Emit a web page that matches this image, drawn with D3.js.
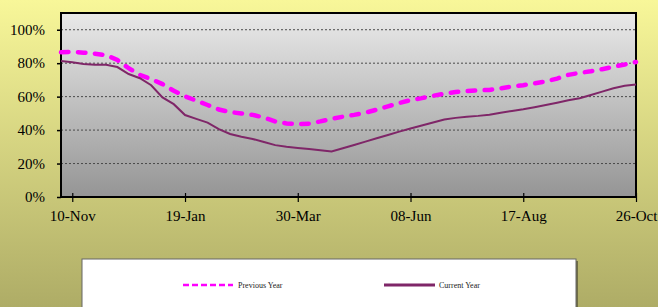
<!DOCTYPE html>
<html><head><meta charset="utf-8">
<script src="https://cdn.jsdelivr.net/npm/d3@7/dist/d3.min.js"></script>
<style>html,body{margin:0;padding:0;overflow:hidden;background:#fff}</style>
</head><body><svg id="c" width="658" height="307"></svg>
<script>
const weeks = ["2008-11-03","2008-11-10","2008-11-17","2008-11-24","2008-12-01","2008-12-08","2008-12-15","2008-12-22","2008-12-29",
"2009-01-05","2009-01-12","2009-01-19","2009-01-26","2009-02-02","2009-02-09","2009-02-16","2009-02-23",
"2009-03-02","2009-03-09","2009-03-16","2009-03-23","2009-03-30","2009-04-06","2009-04-13","2009-04-20","2009-04-27",
"2009-05-04","2009-05-11","2009-05-18","2009-05-25","2009-06-01","2009-06-08","2009-06-15","2009-06-22","2009-06-29",
"2009-07-06","2009-07-13","2009-07-20","2009-07-27","2009-08-03","2009-08-10","2009-08-17","2009-08-24","2009-08-31",
"2009-09-07","2009-09-14","2009-09-21","2009-09-28","2009-10-05","2009-10-12","2009-10-19","2009-10-26"];
const previousYear = [86.5,86.8,86.3,85.7,84.8,81.9,77,73,70.5,67.5,63.5,60.2,57.6,55,52.3,50.8,49.9,49.1,47.5,45.2,44,43.5,43.8,45.2,46.8,48,
49.1,50.4,52.2,54.2,56.2,57.9,59.1,60.5,61.8,62.8,63.3,63.8,64,65,66,66.8,68,69.1,70.8,73,74.2,75.2,76.4,77.9,79.2,80.7];
const currentYear = [81.3,80.5,79.5,79,79,77.7,73.5,71,66.8,59.5,55.5,49,46.7,44.5,40.6,37.7,36,34.7,32.9,31,30,29.3,28.7,28,27.2,29.1,
31.1,33.1,35.1,37.1,39.1,41,42.7,44.5,46.3,47.3,48,48.5,49.2,50.4,51.4,52.4,53.7,55,56.4,57.8,59,61,63,65,66.5,67.2];
const xTickDates = ["2008-11-10","2009-01-19","2009-03-30","2009-06-08","2009-08-17","2009-10-26"];
const xTickLabels = ["10-Nov","19-Jan","30-Mar","08-Jun","17-Aug","26-Oct"];
const yTicks = [0,20,40,60,80,100];
const seriesNames = ["Previous Year","Current Year"];

const parse = d3.timeParse("%Y-%m-%d");
const dates = weeks.map(parse);
const svg = d3.select("#c");
const W=658,H=307;
const L=61,R=636,T=13,B=197;

const defs = svg.append("defs");
const bg = defs.append("linearGradient").attr("id","bg").attr("x1",0).attr("y1",0).attr("x2",0).attr("y2",1);
bg.append("stop").attr("offset","0%").attr("stop-color","#f8f799");
bg.append("stop").attr("offset","100%").attr("stop-color","#aeac66");
const pg = defs.append("linearGradient").attr("id","pg").attr("x1",0).attr("y1",0).attr("x2",0).attr("y2",1);
pg.append("stop").attr("offset","0%").attr("stop-color","#e9e9e9");
pg.append("stop").attr("offset","100%").attr("stop-color","#959595");

svg.append("rect").attr("width",W).attr("height",H).attr("fill","url(#bg)");

const x = d3.scaleTime().domain([dates[0],dates[dates.length-1]]).range([L,R]);
const y = d3.scaleLinear().domain([0,110]).range([B,T]);

svg.append("rect").attr("x",L).attr("y",T).attr("width",R-L).attr("height",B-T).attr("fill","url(#pg)");

// gridlines
svg.append("g").selectAll("line").data(yTicks.filter(d=>d>0)).join("line")
  .attr("x1",L).attr("x2",R).attr("y1",d=>y(d)).attr("y2",d=>y(d))
  .attr("stroke","#4a4a4a").attr("stroke-width",1).attr("stroke-dasharray","2,2");

const font = "'Liberation Serif','Times New Roman',serif";

// y axis
const ya = svg.append("g").attr("transform",`translate(${L},0)`)
  .call(d3.axisLeft(y).tickValues(yTicks).tickFormat(d=>d+"%").tickSize(4).tickPadding(12));
ya.select(".domain").remove();
ya.selectAll("line").attr("stroke","#000").attr("stroke-width",1.5);
ya.selectAll("text").attr("font-family",font).attr("font-size",15).attr("fill","#000");

// x axis
const xa = svg.append("g").attr("transform",`translate(0,${B})`)
  .call(d3.axisBottom(x).tickValues(xTickDates.map(parse)).tickFormat((d,i)=>xTickLabels[i]).tickSize(5).tickPadding(8));
xa.select(".domain").remove();
xa.selectAll(".tick line").attr("y1",-4).attr("stroke","#000").attr("stroke-width",1.2);
xa.selectAll("text").attr("font-family",font).attr("font-size",15).attr("fill","#000");

// plot border
svg.append("rect").attr("x",L).attr("y",T).attr("width",R-L).attr("height",B-T)
  .attr("fill","none").attr("stroke","#000").attr("stroke-width",2);

const line = d3.line().x((d,i)=>x(dates[i])).y(d=>y(d));
svg.append("path").datum(previousYear).attr("d",line).attr("fill","none")
  .attr("stroke","#ff00ff").attr("stroke-width",4.5).attr("stroke-linecap","round")
  .attr("stroke-dasharray","7.5,9.5");
svg.append("path").datum(currentYear).attr("d",line).attr("fill","none")
  .attr("stroke","#7f2668").attr("stroke-width",2);

// legend
svg.append("rect").attr("x",84).attr("y",261).attr("width",494).attr("height",60).attr("fill","#6f6d45");
svg.append("rect").attr("x",82).attr("y",259).attr("width",494).attr("height",60)
  .attr("fill","#fff").attr("stroke","#666").attr("stroke-width",1);
const ly = 285;
const leg = [{x1:183,x2:233,tx:238,name:seriesNames[0],c:"#ff00ff",w:2.5,dash:"6,3"},
             {x1:384,x2:435,tx:439,name:seriesNames[1],c:"#7f2668",w:3,dash:null}];
leg.forEach(l=>{
  const ln = svg.append("line").attr("x1",l.x1).attr("x2",l.x2).attr("y1",ly).attr("y2",ly)
    .attr("stroke",l.c).attr("stroke-width",l.w);
  if(l.dash) ln.attr("stroke-dasharray",l.dash);
  svg.append("text").attr("x",l.tx).attr("y",ly+3).attr("font-family",font).attr("font-size",8)
    .attr("fill","#222").text(l.name);
});
</script></body></html>
